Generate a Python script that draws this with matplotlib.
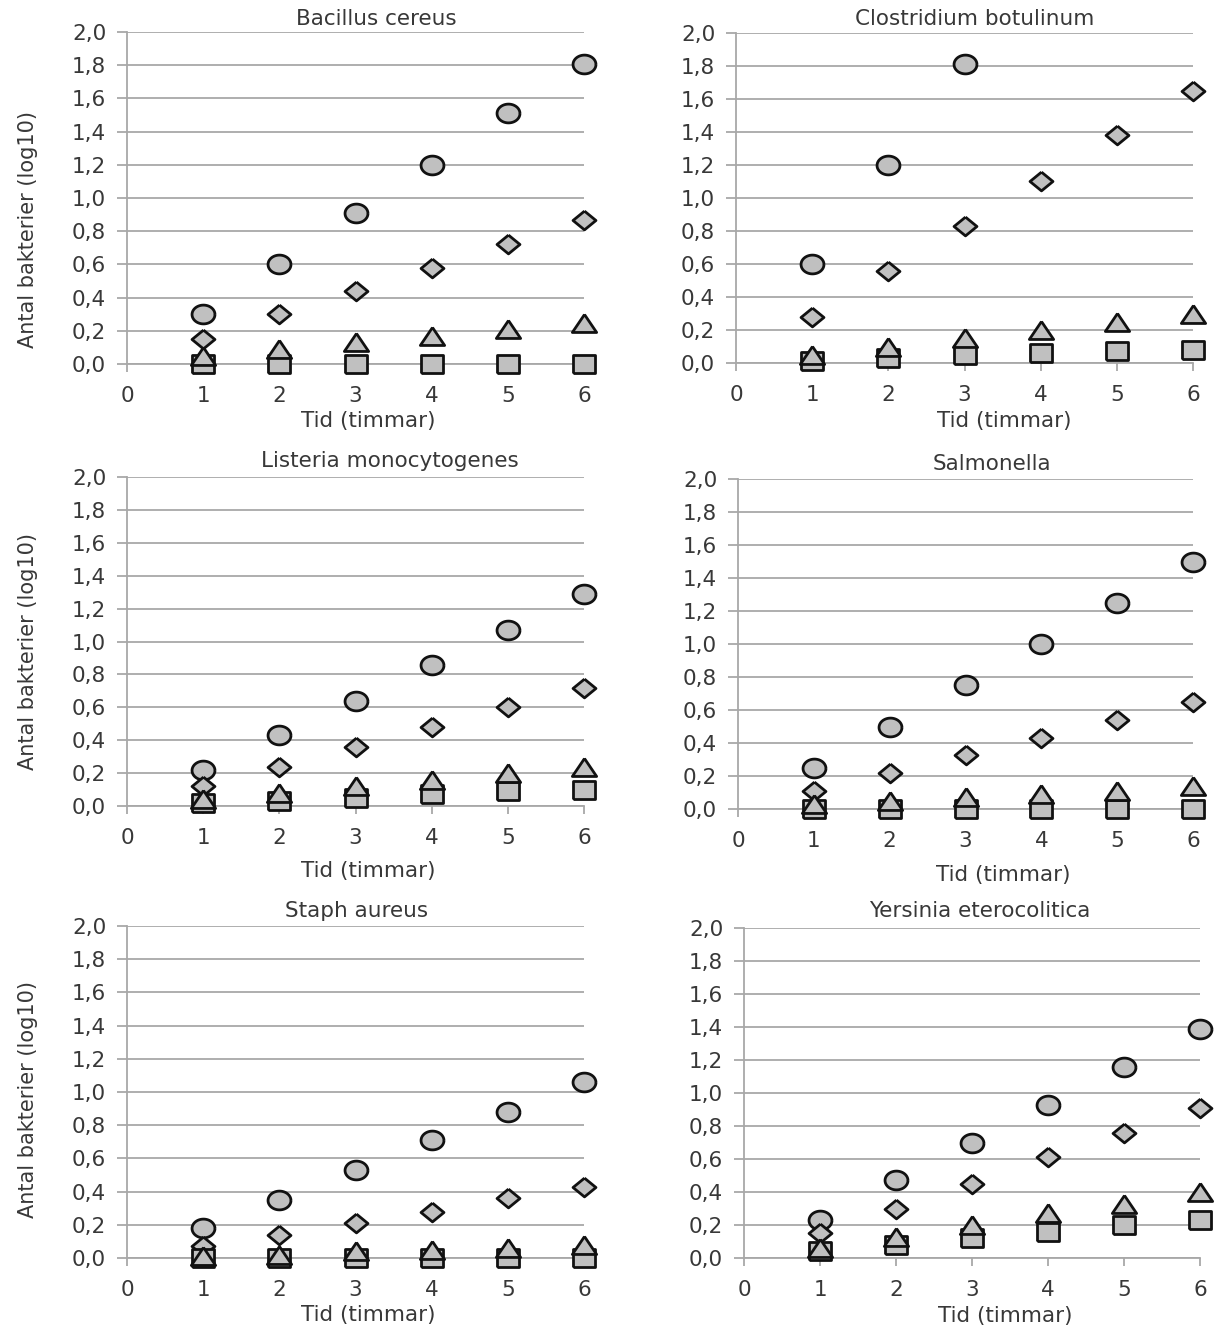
import numpy as np
import matplotlib.pyplot as plt
from matplotlib.path import Path
from matplotlib.ticker import FuncFormatter

plt.rcParams['font.family'] = ['DejaVu Sans']

W, H = 1226, 1330
DPI = 100

hours = [1, 2, 3, 4, 5, 6]

titles = ["Bacillus cereus", "Clostridium botulinum", "Listeria monocytogenes",
          "Salmonella", "Staph aureus", "Yersinia eterocolitica"]

# four series per organism: circle, diamond, triangle, square
bacillus_circle = [0.30, 0.60, 0.91, 1.20, 1.51, 1.81]
bacillus_diamond = [0.15, 0.30, 0.44, 0.58, 0.72, 0.87]
bacillus_triangle = [0.05, 0.09, 0.13, 0.17, 0.21, 0.25]
bacillus_square = [0.0, 0.0, 0.0, 0.0, 0.0, 0.0]

clostridium_circle = [0.60, 1.20, 1.81]
clostridium_diamond = [0.28, 0.56, 0.83, 1.10, 1.38, 1.65]
clostridium_triangle = [0.05, 0.10, 0.15, 0.20, 0.25, 0.30]
clostridium_square = [0.01, 0.03, 0.05, 0.06, 0.07, 0.08]

listeria_circle = [0.22, 0.43, 0.64, 0.86, 1.07, 1.29]
listeria_diamond = [0.12, 0.24, 0.36, 0.48, 0.60, 0.72]
listeria_triangle = [0.04, 0.08, 0.12, 0.16, 0.20, 0.24]
listeria_square = [0.02, 0.03, 0.05, 0.07, 0.09, 0.10]

salmonella_circle = [0.25, 0.50, 0.75, 1.00, 1.25, 1.50]
salmonella_diamond = [0.11, 0.22, 0.33, 0.43, 0.54, 0.65]
salmonella_triangle = [0.03, 0.05, 0.07, 0.09, 0.11, 0.14]
salmonella_square = [0.0, 0.0, 0.0, 0.0, 0.0, 0.0]

staph_circle = [0.18, 0.35, 0.53, 0.71, 0.88, 1.06]
staph_diamond = [0.07, 0.14, 0.21, 0.28, 0.36, 0.43]
staph_triangle = [0.01, 0.02, 0.04, 0.05, 0.06, 0.08]
staph_square = [0.0, 0.0, 0.0, 0.0, 0.0, 0.0]

yersinia_circle = [0.23, 0.47, 0.70, 0.93, 1.16, 1.39]
yersinia_diamond = [0.15, 0.30, 0.45, 0.61, 0.76, 0.91]
yersinia_triangle = [0.06, 0.13, 0.20, 0.27, 0.33, 0.40]
yersinia_square = [0.04, 0.08, 0.12, 0.16, 0.20, 0.23]

panels = [
    (bacillus_circle, bacillus_diamond, bacillus_triangle, bacillus_square),
    (clostridium_circle, clostridium_diamond, clostridium_triangle, clostridium_square),
    (listeria_circle, listeria_diamond, listeria_triangle, listeria_square),
    (salmonella_circle, salmonella_diamond, salmonella_triangle, salmonella_square),
    (staph_circle, staph_diamond, staph_triangle, staph_square),
    (yersinia_circle, yersinia_diamond, yersinia_triangle, yersinia_square),
]

# plot boxes in pixels: x at 0, x at 6, y at 2.0, y at 0.0
boxes = [(127, 584, 32, 364), (736, 1193, 33, 363),
         (127, 584, 477, 806), (738, 1193, 479, 809),
         (127, 584, 926, 1258), (744, 1200, 928, 1258)]
title_pos = [(376, 19), (975, 19), (390, 461), (992, 464), (357, 911), (980, 911)]
xlabel_pos = [(368, 421), (1004, 421), (368, 871), (1003, 875), (368, 1315), (1005, 1316)]
ylabel_pos = [(28, 230), (28, 652), (28, 1100)]

text_col = '#383838'
grid_col = '#a8a8a8'
fill_col = '#c0c0c0'
edge_col = '#111111'

# markers are slightly wider than tall
STRETCH = 1.22
def squashed(verts):
    v = np.array(verts, dtype=float)
    v[:, 1] /= STRETCH
    return Path(v)

t = np.linspace(0, 2 * np.pi, 60)
m_circle = squashed(np.column_stack([np.cos(t), np.sin(t)]))
m_diamond = squashed([[0, 1], [1, 0], [0, -1], [-1, 0], [0, 1]])
m_triangle = squashed([[0, 0.9], [1, -0.9], [-1, -0.9], [0, 0.9]])
m_square = squashed([[-1, -1], [1, -1], [1, 1], [-1, 1], [-1, -1]])

styles = [(m_circle, 16.5), (m_diamond, 16.5), (m_triangle, 17.5), (m_square, 16)]
draw_order = [0, 1, 3, 2]

fig = plt.figure(figsize=(W / DPI, H / DPI), dpi=DPI)
fmt = FuncFormatter(lambda v, p: f"{v:.1f}".replace('.', ','))

for i, (series, box) in enumerate(zip(panels, boxes)):
    x0, x6, ytop, ybot = box
    ax = fig.add_axes([x0 / W, 1 - ybot / H, (x6 - x0) / W, (ybot - ytop) / H])
    for z, k in enumerate(draw_order):
        vals = series[k]
        marker, ms = styles[k]
        ax.plot(hours[:len(vals)], vals, linestyle='none', marker=marker, ms=ms,
                mfc=fill_col, mec=edge_col, mew=2.0, clip_on=False, zorder=3 + z)
    ax.set_xlim(0, 6)
    ax.set_ylim(0, 2)
    ax.set_xticks(range(0, 7))
    ax.set_yticks(np.arange(0, 2.01, 0.2))
    ax.yaxis.set_major_formatter(fmt)
    ax.grid(axis='y', color=grid_col, lw=1.3)
    ax.set_axisbelow(True)
    for s in ['top', 'right']:
        ax.spines[s].set_visible(False)
    for s in ['left', 'bottom']:
        ax.spines[s].set_color(grid_col)
        ax.spines[s].set_linewidth(1.3)
    ax.tick_params(axis='y', length=7, width=1.3, color=grid_col, pad=8,
                   labelsize=15.5, labelcolor=text_col)
    ax.tick_params(axis='x', length=6, width=1.3, color=grid_col, pad=10,
                   labelsize=15.5, labelcolor=text_col)
    ax.patch.set_visible(False)

    tx, ty = title_pos[i]
    fig.text(tx / W, 1 - ty / H, titles[i], ha='center', va='center',
             fontsize=15.5, color=text_col)
    lx, ly = xlabel_pos[i]
    fig.text(lx / W, 1 - ly / H, "Tid (timmar)", ha='center', va='center',
             fontsize=15.5, color=text_col)

for yx, yy in ylabel_pos:
    fig.text(yx / W, 1 - yy / H, "Antal bakterier (log10)", ha='center', va='center',
             rotation=90, fontsize=15, color=text_col)

fig.savefig('out.png', dpi=DPI)
